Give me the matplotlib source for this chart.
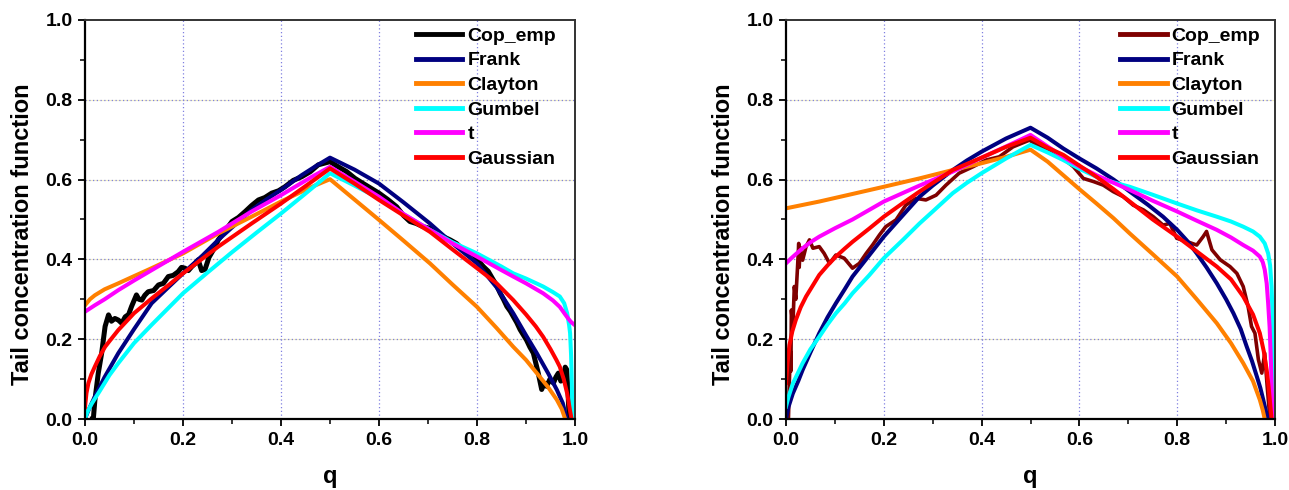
import matplotlib
matplotlib.use("Agg")
import matplotlib.pyplot as plt
from matplotlib.ticker import MultipleLocator

plt.rcParams['font.family'] = ['Liberation Sans', 'DejaVu Sans']
plt.rcParams['font.weight'] = 'bold'

series_names = ["Cop_emp", "Frank", "Clayton", "Gumbel", "t", "Gaussian"]

# ---- left panel ----
emp_L_q = [0.015, 0.017, 0.02, 0.027, 0.034, 0.041, 0.048, 0.054, 0.061, 0.068, 0.075, 0.082,
           0.089, 0.095, 0.105, 0.11, 0.116, 0.122, 0.129, 0.14, 0.15, 0.16, 0.17, 0.18, 0.19,
           0.197, 0.204, 0.211, 0.218, 0.225, 0.231, 0.238, 0.245, 0.253, 0.262, 0.272, 0.285,
           0.3, 0.313, 0.327, 0.34, 0.354, 0.367, 0.381, 0.395, 0.408, 0.425, 0.442, 0.46, 0.476,
           0.5, 0.517, 0.534, 0.551, 0.568, 0.584, 0.6, 0.618, 0.636, 0.65, 0.663, 0.676, 0.69,
           0.704, 0.718, 0.731, 0.745, 0.758, 0.772, 0.782, 0.793, 0.803, 0.813, 0.823, 0.833,
           0.84, 0.847, 0.854, 0.861, 0.868, 0.874, 0.881, 0.888, 0.895, 0.901, 0.908, 0.915,
           0.92, 0.925, 0.932, 0.937, 0.942, 0.949, 0.956, 0.961, 0.966, 0.971, 0.976, 0.98,
           0.983, 0.986, 0.988]
emp_L_v = [0.0, 0.0, 0.045, 0.114, 0.165, 0.232, 0.261, 0.245, 0.252, 0.248, 0.24, 0.256,
           0.262, 0.282, 0.311, 0.3, 0.298, 0.31, 0.319, 0.322, 0.336, 0.34, 0.357, 0.36, 0.369,
           0.38, 0.378, 0.372, 0.382, 0.39, 0.399, 0.372, 0.375, 0.405, 0.424, 0.449, 0.47,
           0.495, 0.505, 0.52, 0.535, 0.549, 0.555, 0.566, 0.572, 0.582, 0.598, 0.607, 0.62, 0.637,
           0.645, 0.632, 0.62, 0.603, 0.59, 0.578, 0.566, 0.55, 0.532, 0.51, 0.495, 0.49, 0.482,
           0.478, 0.465, 0.457, 0.449, 0.44, 0.424, 0.418, 0.411, 0.396, 0.382, 0.37, 0.349,
           0.335, 0.316, 0.3, 0.282, 0.27, 0.257, 0.242, 0.224, 0.21, 0.198, 0.18, 0.165,
           0.14, 0.115, 0.074, 0.09, 0.082, 0.1, 0.09, 0.105, 0.115, 0.095, 0.098, 0.13,
           0.124, 0.064, 0.0]

frank_L_q = [0.0, 0.005, 0.01, 0.02, 0.04, 0.068, 0.1, 0.136, 0.17, 0.2, 0.24, 0.272, 0.3,
             0.34, 0.37, 0.4, 0.442, 0.47, 0.5,
             0.55, 0.6, 0.65, 0.704, 0.75, 0.8, 0.84, 0.874, 0.9, 0.922, 0.945, 0.963,
             0.975, 0.983]
frank_L_v = [0.0, 0.016, 0.03, 0.056, 0.105, 0.165, 0.225, 0.29, 0.33, 0.365, 0.41, 0.449, 0.48,
             0.524, 0.55, 0.574, 0.611, 0.633, 0.655,
             0.625, 0.59, 0.543, 0.49, 0.44, 0.39, 0.33, 0.265, 0.21, 0.165, 0.115, 0.073,
             0.04, 0.0]

clayton_L_q = [0.0, 0.01, 0.02, 0.04, 0.068, 0.1, 0.136, 0.2, 0.272, 0.34, 0.4, 0.463, 0.5,
               0.55, 0.6, 0.65, 0.704, 0.75, 0.8, 0.84, 0.874, 0.9, 0.922, 0.945, 0.963,
               0.973, 0.98]
clayton_L_v = [0.285, 0.3, 0.31, 0.325, 0.34, 0.358, 0.378, 0.415, 0.465, 0.507, 0.545, 0.582, 0.601,
               0.55, 0.499, 0.447, 0.39, 0.337, 0.281, 0.228, 0.181, 0.148, 0.115, 0.08, 0.048,
               0.025, 0.0]

gumbel_L_q = [0.0, 0.005, 0.014, 0.03, 0.05, 0.068, 0.1, 0.136, 0.17, 0.2, 0.25, 0.3, 0.35,
              0.4, 0.45, 0.5,
              0.55, 0.6, 0.65, 0.704, 0.75, 0.8, 0.85, 0.874, 0.9, 0.935, 0.955, 0.969, 0.978,
              0.984, 0.988, 0.99, 0.992, 0.993, 0.994, 0.995]
gumbel_L_v = [0.0, 0.018, 0.039, 0.07, 0.11, 0.14, 0.19, 0.236, 0.278, 0.315, 0.367, 0.418, 0.467,
              0.515, 0.565, 0.616,
              0.585, 0.553, 0.513, 0.474, 0.443, 0.415, 0.382, 0.365, 0.352, 0.332, 0.318, 0.307, 0.29,
              0.265, 0.235, 0.215, 0.16, 0.115, 0.06, 0.0]

t_L_q = [0.0, 0.01, 0.02, 0.04, 0.068, 0.1, 0.136, 0.2, 0.272, 0.34, 0.4, 0.463, 0.5,
         0.55, 0.6, 0.65, 0.704, 0.75, 0.8, 0.85, 0.874, 0.9, 0.935, 0.955, 0.969, 0.98,
         0.986, 0.992, 1.0]
t_L_v = [0.269, 0.277, 0.285, 0.3, 0.323, 0.347, 0.373, 0.419, 0.469, 0.52, 0.561, 0.607, 0.632,
         0.595, 0.557, 0.514, 0.474, 0.44, 0.407, 0.373, 0.357, 0.34, 0.315, 0.297, 0.281, 0.262,
         0.252, 0.243, 0.235]

gauss_L_q = [0.0, 0.003, 0.007, 0.013, 0.02, 0.03, 0.041, 0.055, 0.068, 0.1, 0.136, 0.17, 0.2,
             0.272, 0.34, 0.4, 0.463, 0.5,
             0.55, 0.6, 0.65, 0.704, 0.75, 0.8, 0.84, 0.874, 0.9, 0.92, 0.935, 0.95, 0.962,
             0.969, 0.977, 0.984, 0.988, 0.99, 0.993]
gauss_L_v = [0.03, 0.065, 0.09, 0.112, 0.131, 0.157, 0.181, 0.203, 0.223, 0.265, 0.302, 0.335, 0.365,
             0.432, 0.49, 0.54, 0.595, 0.628,
             0.59, 0.549, 0.51, 0.469, 0.425, 0.378, 0.34, 0.298, 0.262, 0.232, 0.206, 0.175, 0.148,
             0.131, 0.1, 0.064, 0.035, 0.02, 0.0]

# ---- right panel ----
emp_R_q = [0.005, 0.007, 0.009, 0.01, 0.011, 0.014, 0.017, 0.02, 0.024, 0.026, 0.027, 0.029,
           0.034, 0.041, 0.048, 0.055, 0.068, 0.078, 0.089, 0.102, 0.119, 0.136, 0.15, 0.164,
           0.177, 0.191, 0.204, 0.225, 0.245, 0.266, 0.286, 0.307, 0.327, 0.354, 0.382, 0.409,
           0.436, 0.464, 0.498, 0.519, 0.54, 0.567, 0.588, 0.608, 0.629, 0.649, 0.669, 0.69,
           0.71, 0.731, 0.751, 0.771, 0.785, 0.799, 0.819, 0.84, 0.853, 0.86, 0.871, 0.888,
           0.908, 0.922, 0.935, 0.945, 0.952, 0.959, 0.966, 0.973, 0.979, 0.984, 0.988, 0.99]
emp_R_v = [0.0, 0.1, 0.17, 0.12, 0.273, 0.23, 0.332, 0.3, 0.39, 0.44, 0.38, 0.43,
           0.398, 0.432, 0.449, 0.428, 0.432, 0.415, 0.39, 0.411, 0.403, 0.378, 0.39, 0.415,
           0.436, 0.461, 0.482, 0.499, 0.536, 0.553, 0.549, 0.561, 0.586, 0.616, 0.632, 0.649,
           0.657, 0.682, 0.699, 0.682, 0.67, 0.653, 0.632, 0.603, 0.595, 0.586, 0.57, 0.557,
           0.536, 0.524, 0.507, 0.486, 0.49, 0.453, 0.445, 0.436, 0.457, 0.47, 0.424, 0.399,
           0.382, 0.365, 0.332, 0.282, 0.232, 0.215, 0.149, 0.115, 0.165, 0.082, 0.024, 0.0]

frank_R_q = [0.0, 0.005, 0.014, 0.025, 0.034, 0.05, 0.068, 0.085, 0.102, 0.12, 0.136, 0.17, 0.2,
             0.24, 0.273, 0.3, 0.341, 0.37, 0.4, 0.45, 0.5,
             0.535, 0.567, 0.6, 0.635, 0.67, 0.703, 0.74, 0.771, 0.8, 0.82, 0.84, 0.86, 0.881,
             0.9, 0.915, 0.93, 0.942, 0.953, 0.963, 0.97, 0.976, 0.981, 0.985]
frank_R_v = [0.0, 0.03, 0.064, 0.095, 0.123, 0.167, 0.215, 0.255, 0.29, 0.325, 0.357, 0.41, 0.457,
             0.512, 0.557, 0.585, 0.624, 0.648, 0.67, 0.703, 0.73,
             0.705, 0.678, 0.653, 0.628, 0.6, 0.57, 0.537, 0.507, 0.474, 0.447, 0.415, 0.38, 0.34,
             0.3, 0.265, 0.225, 0.182, 0.145, 0.106, 0.078, 0.048, 0.022, 0.0]

clayton_R_q = [0.0, 0.068, 0.136, 0.2, 0.273, 0.341, 0.4, 0.45, 0.5,
               0.535, 0.567, 0.6, 0.635, 0.67, 0.703, 0.75, 0.8, 0.84, 0.881, 0.91, 0.935,
               0.955, 0.969, 0.975, 0.979]
clayton_R_v = [0.528, 0.545, 0.564, 0.582, 0.603, 0.624, 0.641, 0.657, 0.675,
               0.645, 0.611, 0.576, 0.54, 0.503, 0.465, 0.413, 0.357, 0.3, 0.24, 0.19, 0.14,
               0.095, 0.048, 0.022, 0.0]

gumbel_R_q = [0.0, 0.005, 0.014, 0.025, 0.034, 0.05, 0.068, 0.085, 0.102, 0.12, 0.136, 0.17, 0.2,
              0.24, 0.273, 0.3, 0.341, 0.37, 0.4, 0.45, 0.5,
              0.535, 0.567, 0.6, 0.635, 0.67, 0.703, 0.75, 0.8, 0.84, 0.881, 0.91, 0.935, 0.955,
              0.969, 0.979, 0.986, 0.99, 0.993, 0.995, 0.997, 0.999]
gumbel_R_v = [0.031, 0.055, 0.089, 0.117, 0.14, 0.175, 0.206, 0.237, 0.265, 0.29, 0.315, 0.36, 0.403,
              0.45, 0.49, 0.52, 0.566, 0.592, 0.616, 0.653, 0.687,
              0.668, 0.649, 0.627, 0.607, 0.593, 0.582, 0.562, 0.54, 0.523, 0.507, 0.495, 0.482, 0.47,
              0.457, 0.44, 0.415, 0.385, 0.332, 0.26, 0.165, 0.0]

t_R_q = [0.0, 0.01, 0.02, 0.034, 0.05, 0.068, 0.1, 0.136, 0.2, 0.273, 0.341, 0.4, 0.45, 0.5,
         0.535, 0.567, 0.6, 0.635, 0.67, 0.703, 0.75, 0.8, 0.84, 0.881, 0.91, 0.935, 0.955,
         0.969, 0.975, 0.979, 0.983, 0.986, 0.989, 0.991, 0.993, 0.995]
t_R_v = [0.39, 0.402, 0.413, 0.428, 0.443, 0.457, 0.478, 0.5, 0.545, 0.585, 0.62, 0.655, 0.683, 0.712,
         0.683, 0.657, 0.633, 0.611, 0.592, 0.574, 0.547, 0.52, 0.497, 0.474, 0.455, 0.436, 0.422,
         0.407, 0.393, 0.374, 0.34, 0.29, 0.23, 0.165, 0.09, 0.0]

gauss_R_q = [0.0, 0.003, 0.007, 0.013, 0.02, 0.03, 0.041, 0.055, 0.068, 0.085, 0.102, 0.12, 0.136,
             0.17, 0.2, 0.24, 0.273, 0.341, 0.4, 0.45, 0.5,
             0.535, 0.567, 0.6, 0.635, 0.67, 0.703, 0.75, 0.8, 0.84, 0.881, 0.91, 0.935, 0.955,
             0.969, 0.977, 0.983, 0.987, 0.99, 0.993]
gauss_R_v = [0.09, 0.14, 0.185, 0.22, 0.248, 0.28, 0.307, 0.335, 0.361, 0.385, 0.407, 0.427, 0.444,
             0.477, 0.507, 0.542, 0.57, 0.624, 0.655, 0.682, 0.705,
             0.68, 0.662, 0.635, 0.607, 0.576, 0.545, 0.5, 0.457, 0.42, 0.382, 0.35, 0.307, 0.262,
             0.215, 0.17, 0.123, 0.08, 0.04, 0.0]

x_ticks = [0.0, 0.2, 0.4, 0.6, 0.8, 1.0]
y_ticks = [0.0, 0.2, 0.4, 0.6, 0.8, 1.0]

model_colors = ["#000080", "#ff8000", "#00ffff", "#ff00ff", "#ff0000"]

panels = [
    dict(emp=(emp_L_q, emp_L_v), emp_color="#000000", emp_lw=3.6,
         models=[(frank_L_q, frank_L_v), (clayton_L_q, clayton_L_v), (gumbel_L_q, gumbel_L_v),
                 (t_L_q, t_L_v), (gauss_L_q, gauss_L_v)],
         rect=[85 / 1289, 71 / 490, 490 / 1289, 399 / 490], leg_x=0.675),
    dict(emp=(emp_R_q, emp_R_v), emp_color="#7f0000", emp_lw=2.6,
         models=[(frank_R_q, frank_R_v), (clayton_R_q, clayton_R_v), (gumbel_R_q, gumbel_R_v),
                 (t_R_q, t_R_v), (gauss_R_q, gauss_R_v)],
         rect=[786 / 1289, 71 / 490, 489 / 1289, 399 / 490], leg_x=0.683),
]

fig = plt.figure(figsize=(12.89, 4.90), dpi=100)

for p in panels:
    ax = fig.add_axes(p["rect"])
    ax.set_xlim(0, 1)
    ax.set_ylim(0, 1)

    # dotted grid at major ticks
    for g in [0.2, 0.4, 0.6, 0.8]:
        ax.axhline(g, color="#f2f0c8", lw=0.8, zorder=0)
        ax.axhline(g, color="#8080e0", lw=0.9, ls=(0, (1, 2)), zorder=0.5)
        ax.axvline(g, color="#8080e0", lw=0.9, ls=(0, (1, 2)), zorder=0.5)

    ax.plot(p["emp"][0], p["emp"][1], color=p["emp_color"], lw=p["emp_lw"],
            label=series_names[0], solid_joinstyle="round")
    for (q, v), c, name in zip(p["models"], model_colors, series_names[1:]):
        ax.plot(q, v, color=c, lw=2.9, label=name, solid_joinstyle="round")

    ax.set_xticks(x_ticks)
    ax.set_yticks(y_ticks)
    ax.xaxis.set_minor_locator(MultipleLocator(0.1))
    ax.yaxis.set_minor_locator(MultipleLocator(0.1))
    ax.tick_params(which="major", direction="out", length=5, width=1.3, labelsize=14, pad=4)
    ax.tick_params(which="minor", direction="out", length=3.5, width=1.1)
    for lab in ax.get_xticklabels() + ax.get_yticklabels():
        lab.set_fontweight("bold")

    for side in ["left", "bottom"]:
        ax.spines[side].set_linewidth(1.6)
        ax.spines[side].set_color("#000000")
    for side in ["top", "right"]:
        ax.spines[side].set_linewidth(1.4)
        ax.spines[side].set_color("#333333")

    ax.set_xlabel("q", fontsize=17, fontweight="bold")
    ax.set_ylabel("Tail concentration function", fontsize=17, fontweight="bold")
    ax.xaxis.label.set_va("center")
    ax.xaxis.set_label_coords(0.5, -0.145)
    ax.yaxis.label.set_va("center")
    ax.yaxis.set_label_coords(-0.128, 0.464)

    leg = ax.legend(loc="upper left", bbox_to_anchor=(p["leg_x"], 0.982), frameon=False,
                    borderpad=0, borderaxespad=0, handlelength=2.4, handletextpad=0.25,
                    labelspacing=0.36, prop={"weight": "bold", "size": 14})
    for h in leg.get_lines():
        h.set_linewidth(3.5)

fig.savefig("out.png", dpi=100)
